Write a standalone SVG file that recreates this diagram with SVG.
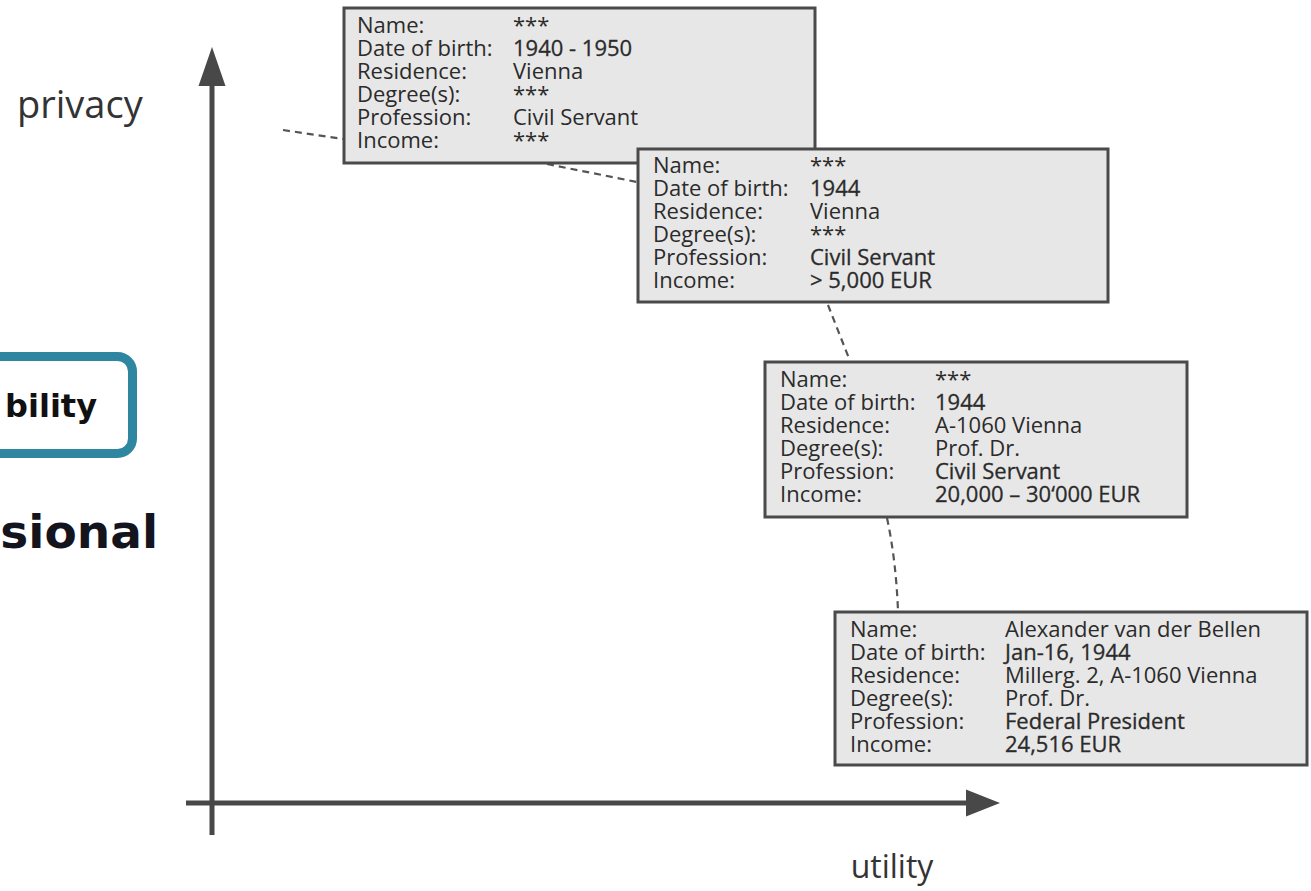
<svg xmlns="http://www.w3.org/2000/svg" width="1311" height="891" viewBox="0 0 1311 891">
<style>
.card{fill:#e7e7e7;stroke:#4a4a4a;stroke-width:3}
.t{font-family:"Open Sans","Liberation Sans",sans-serif;font-size:22px;fill:#2b2b2b}
.em{stroke:#2b2b2b;stroke-width:0.3}
.dash{fill:none;stroke:#555;stroke-width:2.2;stroke-dasharray:7 5}
.axis{stroke:#484848;stroke-width:5;fill:none}
.head{fill:#484848}
.lbl{font-family:"Open Sans","Liberation Sans",sans-serif;fill:#333}
</style>
<rect width="1311" height="891" fill="#ffffff"/>
<g id="axes">
<line class="axis" x1="212" y1="84" x2="212" y2="835"/>
<polygon class="head" points="212,47 198.5,86 225.5,86"/>
<line class="axis" x1="186" y1="803" x2="968" y2="803"/>
<polygon class="head" points="1000,803 966,789.5 966,816.5"/>
<text class="lbl" x="17" y="118" font-size="38">privacy</text>
<text class="lbl" x="892" y="878" font-size="32" text-anchor="middle">utility</text>
</g>
<g id="side-labels">
<rect x="-60" y="356.5" width="192.5" height="97" rx="15" fill="#ffffff" stroke="#2f86a0" stroke-width="9"/>
<text x="97" y="417" font-family="'DejaVu Sans',Verdana,sans-serif" font-weight="bold" font-size="32" text-anchor="end" fill="#111">bility</text>
<text x="158" y="548" font-family="'DejaVu Sans',Verdana,sans-serif" font-weight="bold" font-size="47" text-anchor="end" fill="#14141f">sional</text>
</g>
<g id="connectors">
<path class="dash" d="M283,130 L343,139"/>
<path class="dash" d="M547,164 L637,182"/>
<path class="dash" d="M828,305 L850,361"/>
<path class="dash" d="M887,518 Q896,560 898,611"/>
</g>
<g id="node-1">
<rect class="card" x="344" y="8" width="471" height="155"/>
<text class="t" x="357" y="33">Name:</text><text class="t" x="513" y="33">***</text>
<text class="t" x="357" y="56">Date of birth:</text><text class="t em" x="513" y="56">1940 - 1950</text>
<text class="t" x="357" y="79">Residence:</text><text class="t" x="513" y="79">Vienna</text>
<text class="t" x="357" y="102">Degree(s):</text><text class="t" x="513" y="102">***</text>
<text class="t" x="357" y="125">Profession:</text><text class="t" x="513" y="125">Civil Servant</text>
<text class="t" x="357" y="148">Income:</text><text class="t" x="513" y="148">***</text>
</g>
<g id="node-2">
<rect class="card" x="638" y="149" width="470" height="153"/>
<text class="t" x="653" y="173">Name:</text><text class="t" x="810" y="173">***</text>
<text class="t" x="653" y="196">Date of birth:</text><text class="t em" x="810" y="196">1944</text>
<text class="t" x="653" y="219">Residence:</text><text class="t" x="810" y="219">Vienna</text>
<text class="t" x="653" y="242">Degree(s):</text><text class="t" x="810" y="242">***</text>
<text class="t" x="653" y="265">Profession:</text><text class="t em" x="810" y="265">Civil Servant</text>
<text class="t" x="653" y="288">Income:</text><text class="t em" x="810" y="288">&gt; 5,000 EUR</text>
</g>
<g id="node-3">
<rect class="card" x="765" y="362" width="422" height="155"/>
<text class="t" x="780" y="387">Name:</text><text class="t" x="935" y="387">***</text>
<text class="t" x="780" y="410">Date of birth:</text><text class="t em" x="935" y="410">1944</text>
<text class="t" x="780" y="433">Residence:</text><text class="t" x="935" y="433">A-1060 Vienna</text>
<text class="t" x="780" y="456">Degree(s):</text><text class="t" x="935" y="456">Prof. Dr.</text>
<text class="t" x="780" y="479">Profession:</text><text class="t em" x="935" y="479">Civil Servant</text>
<text class="t" x="780" y="502">Income:</text><text class="t em" x="935" y="502">20,000 – 30‘000 EUR</text>
</g>
<g id="node-4">
<rect class="card" x="835" y="612" width="472" height="153"/>
<text class="t" x="850" y="637">Name:</text><text class="t" x="1005" y="637">Alexander van der Bellen</text>
<text class="t" x="850" y="660">Date of birth:</text><text class="t em" x="1005" y="660">Jan-16, 1944</text>
<text class="t" x="850" y="683">Residence:</text><text class="t" x="1005" y="683">Millerg. 2, A-1060 Vienna</text>
<text class="t" x="850" y="706">Degree(s):</text><text class="t" x="1005" y="706">Prof. Dr.</text>
<text class="t" x="850" y="729">Profession:</text><text class="t em" x="1005" y="729">Federal President</text>
<text class="t" x="850" y="752">Income:</text><text class="t em" x="1005" y="752">24,516 EUR</text>
</g>
</svg>
